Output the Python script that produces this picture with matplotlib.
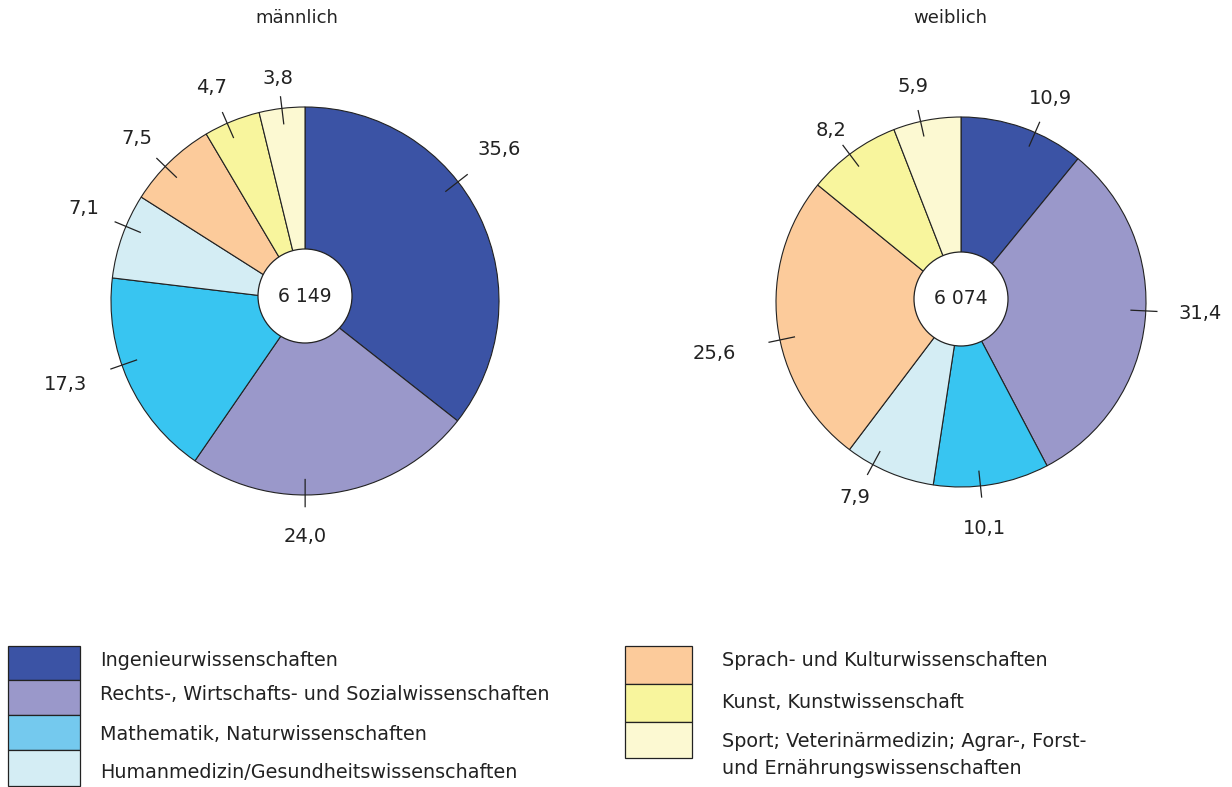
import numpy as np
import matplotlib
matplotlib.use("Agg")
import matplotlib.pyplot as plt
import matplotlib.patches as mpatches

plt.rcParams["font.family"] = ["DejaVu Sans"]

W, H = 1232, 787

categories = [
    "Ingenieurwissenschaften",
    "Rechts-, Wirtschafts- und Sozialwissenschaften",
    "Mathematik, Naturwissenschaften",
    "Humanmedizin/Gesundheitswissenschaften",
    "Sprach- und Kulturwissenschaften",
    "Kunst, Kunstwissenschaft",
    "Sport; Veterinärmedizin; Agrar-, Forst-\nund Ernährungswissenschaften",
]
colors = ["#3b53a5", "#9a98ca", "#38c5f1", "#d4edf4", "#fccb9b", "#f8f59d", "#fcf9d2"]
legend_colors = ["#3b53a5", "#9a98ca", "#74c9ee", "#d4edf4", "#fccb9b", "#f8f59d", "#fcf9d2"]

# slices clockwise from 12 o'clock, same category order in both pies
male_values = [35.6, 24.0, 17.3, 7.1, 7.5, 4.7, 3.8]
female_values = [10.9, 31.4, 10.1, 7.9, 25.6, 8.2, 5.9]
titles = ["männlich", "weiblich"]
totals = ["6 149", "6 074"]

# label nudges: (angle in degrees, extra distance in px) per slice
male_nudge = [(12, 5), (-8.6, 8), (-5, 11), (-3, 2), (2, -3), (1.5, 0), (0, -5)]
female_nudge = [(-4, -4), (3, 7), (-3.5, 7), (-5.6, -2), (5, 19), (1, -11), (2, -1)]

fig = plt.figure(figsize=(W / 100, H / 100), dpi=100)
ax = fig.add_axes([0, 0, 1, 1])


def Y(y):
    return H - y


def draw_pie(values, nudge, cx, cy, r, hole_dy, title, total, title_x):
    ax.pie(values, colors=colors, startangle=90, counterclock=False,
           center=(cx, Y(cy)), radius=r, frame=True,
           wedgeprops={"edgecolor": "#222222", "linewidth": 0.8})
    hole = mpatches.Circle((cx, Y(cy - hole_dy)), 47, facecolor="white",
                           edgecolor="#222222", linewidth=0.9, zorder=5)
    ax.add_patch(hole)
    ax.text(cx, Y(cy - hole_dy), total, ha="center", va="center",
            fontsize=13.5, zorder=6, color="#222222")
    ax.text(title_x, Y(18), title, ha="center", va="center", fontsize=13,
            color="#222222")

    cum = np.cumsum([0] + list(values))
    for k, v in enumerate(values):
        da, dd = nudge[k]
        mid = 90 - 3.6 * (cum[k] + v / 2) + da
        a = np.deg2rad(mid)
        ca, sa = np.cos(a), np.sin(a)
        r0, r1 = 0.92 * r, 1.06 * r
        ax.plot([cx + r0 * ca, cx + r1 * ca], [Y(cy) + r0 * sa, Y(cy) + r1 * sa],
                color="#222222", linewidth=0.9, zorder=4)
        lab = f"{v:.1f}".replace(".", ",")
        hw = 5.3 * len(lab)
        d = r1 + 15 + hw * abs(ca) + 7 * abs(sa) + dd
        ax.text(cx + d * ca, Y(cy) + d * sa, lab,
                ha="center", va="center", fontsize=14, color="#222222")


draw_pie(male_values, male_nudge, 305, 301, 194, 5, titles[0], totals[0], 297)
draw_pie(female_values, female_nudge, 961, 302, 185, 3, titles[1], totals[1], 950)

# legend, two blocks of boxes
left_rows = [(646, 680), (680, 715), (715, 750), (750, 786)]
right_rows = [(646, 684), (684, 722), (722, 758)]
left_text_y = [661, 695, 735, 772]
right_text_y = [661, 702, 755]

for i, (y0, y1) in enumerate(left_rows):
    ax.add_patch(mpatches.Rectangle((8, Y(y1)), 72, y1 - y0, facecolor=legend_colors[i],
                                    edgecolor="#222222", linewidth=0.9))
    ax.text(100, Y(left_text_y[i]), categories[i], ha="left", va="center",
            fontsize=13.8, color="#222222")

for j, (y0, y1) in enumerate(right_rows):
    i = j + 4
    ax.add_patch(mpatches.Rectangle((625, Y(y1)), 67, y1 - y0, facecolor=legend_colors[i],
                                    edgecolor="#222222", linewidth=0.9))
    ax.text(722, Y(right_text_y[j]), categories[i], ha="left", va="center",
            fontsize=13.8, color="#222222", linespacing=1.55)

ax.set_xlim(0, W)
ax.set_ylim(0, H)
ax.set_aspect("equal")
ax.axis("off")

fig.savefig("out.png", dpi=100)
